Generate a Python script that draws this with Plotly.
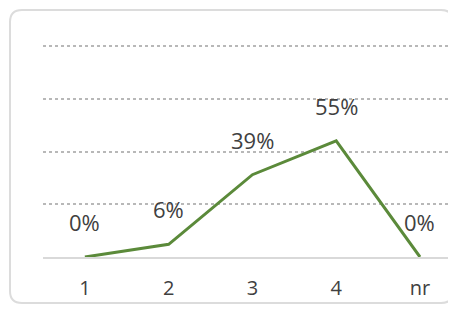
import plotly.graph_objects as go

categories = ["1", "2", "3", "4", "nr"]
values = [0.0, 0.06, 0.39, 0.55, 0.0]
labels = ["0%", "6%", "39%", "55%", "0%"]
grid_ticks = [0.25, 0.5, 0.75, 1.0]

OFF = 8  # page body margin
W, H = 456 - OFF, 311 - OFF
ML, MR, MT, MB = 43 - OFF, 0, 35 - OFF, 54
PW, PH = W - ML - MR, H - MT - MB

def px(x):
    return (x - OFF - ML) / PW

def py(y):
    return (H - MB - (y - OFF)) / PH

# rounded border box (page pixel coordinates)
x0, x1, y0, y1, r = 10, 453, 10, 303, 12
path = (
    f"M {px(x0 + r)},{py(y0)} L {px(x1 - r)},{py(y0)} "
    f"Q {px(x1)},{py(y0)} {px(x1)},{py(y0 + r)} "
    f"L {px(x1)},{py(y1 - r)} Q {px(x1)},{py(y1)} {px(x1 - r)},{py(y1)} "
    f"L {px(x0 + r)},{py(y1)} Q {px(x0)},{py(y1)} {px(x0)},{py(y1 - r)} "
    f"L {px(x0)},{py(y0 + r)} Q {px(x0)},{py(y0)} {px(x0 + r)},{py(y0)} Z"
)

fig = go.Figure()
fig.add_trace(go.Scatter(
    x=list(range(len(categories))), y=values, mode="lines",
    line=dict(color="#5b8a3a", width=3), hoverinfo="skip",
))

annotations = [
    dict(x=i, y=v, text=t, showarrow=False, yshift=35, xref="x", yref="y",
         font=dict(family="Open Sans", size=22, color="#404040"))
    for i, (v, t) in enumerate(zip(values, labels))
]

fig.update_layout(
    width=W, height=H,
    margin=dict(l=ML, r=MR, t=MT, b=MB, pad=0),
    paper_bgcolor="white", plot_bgcolor="white",
    showlegend=False,
    annotations=annotations,
    shapes=[dict(type="path", path=path, xref="paper", yref="paper",
                 line=dict(color="#dcdcdc", width=2), layer="below")],
    xaxis=dict(
        tickmode="array", tickvals=list(range(len(categories))), ticktext=categories,
        range=[-0.5, 4.43], showgrid=False, zeroline=False,
        showline=True, linecolor="#d9d9d9", linewidth=1.5,
        ticks="outside", ticklen=12, tickcolor="rgba(0,0,0,0)",
        tickfont=dict(family="Open Sans", size=20, color="#404040"),
    ),
    yaxis=dict(
        range=[0, PH / 211], tickvals=grid_ticks, showticklabels=False,
        showgrid=True, gridcolor="#b8b8b8", griddash="dot", gridwidth=2,
        zeroline=False, showline=False,
    ),
)

fig.write_html("out.html")
